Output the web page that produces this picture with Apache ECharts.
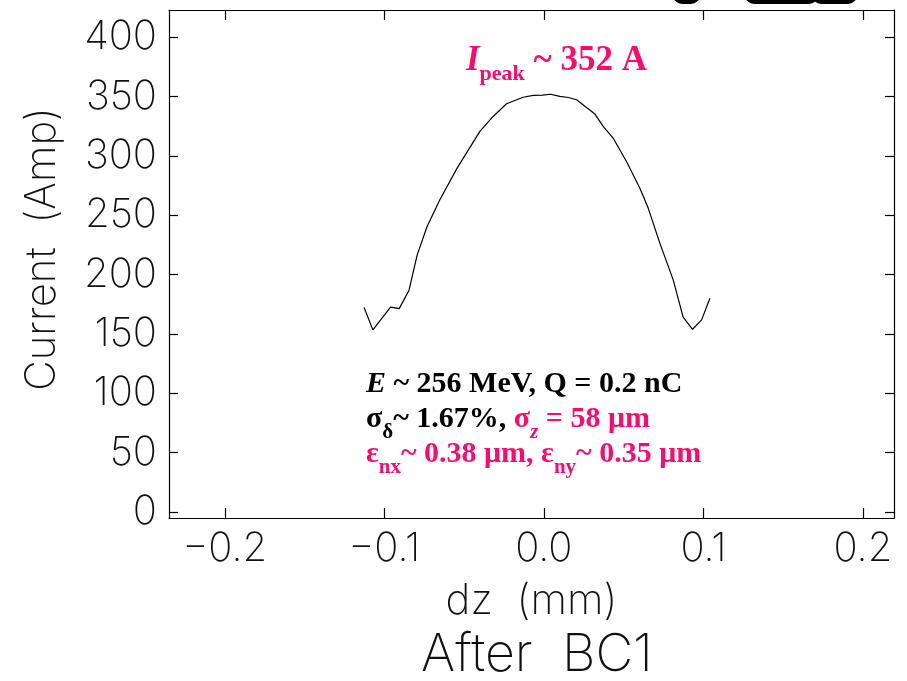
<!DOCTYPE html>
<html>
<head>
<meta charset="utf-8">
<script src="https://cdn.jsdelivr.net/npm/echarts@6/dist/echarts.min.js"></script>
<style>
  html, body { margin: 0; padding: 0; background: #fff; }
  #chart { width: 907px; height: 681px; }
</style>
</head>
<body>
<div id="chart"></div>
<script>
// Longitudinal current profile of the bunch after BC1
const dz = [-0.1127, -0.1072, -0.0961, -0.0907, -0.0846, -0.0794, -0.0732, -0.0652, -0.0544,
            -0.0401, -0.0318, -0.0234, -0.0130, -0.0067, -0.0008, 0.0042, 0.0100, 0.0155,
            0.0205, 0.0320, 0.0372, 0.0434, 0.0518, 0.0602, 0.0654, 0.0727, 0.0811, 0.0873,
            0.0932, 0.0989, 0.1041];
const current = [172.3, 153.5, 172.6, 171.4, 186.6, 216.7, 240.6, 263.1, 289.8,
                 320.7, 333.3, 344.0, 349.5, 351.0, 351.2, 352.0, 350.2, 349.3,
                 347.4, 335.3, 324.9, 315.1, 295.4, 272.9, 256.1, 226.6, 195.6, 164.2,
                 154.0, 161.9, 180.2];

const xTicks = [-0.2, -0.1, 0.0, 0.1, 0.2];
const yTicks = [0, 50, 100, 150, 200, 250, 300, 350, 400];

const tickFont = 'Inter';
const pink = '#ff0a6c';
const serif = '"Liberation Serif", "Times New Roman", serif';

const chart = echarts.init(document.getElementById('chart'));

const frameLine = { show: true, onZero: false, lineStyle: { color: '#000', width: 1.2 } };
const tickStyle = { color: '#000', width: 1.2 };
const fmtX = v => (Math.abs(v) < 1e-9 ? '0.0' : v.toFixed(1).replace('-', '\u2212'));
const thin = { fontFamily: tickFont, fontWeight: 150, color: '#111' };

chart.setOption({
  animation: false,
  backgroundColor: '#fff',
  grid: { left: 169, top: 10, right: 13, bottom: 163, containLabel: false },
  xAxis: [
    {
      type: 'value', position: 'bottom', min: -0.235, max: 0.2195,
      axisLine: frameLine,
      axisTick: { show: true, inside: true, length: 10, customValues: xTicks, lineStyle: tickStyle },
      axisLabel: Object.assign({ show: true, customValues: xTicks, formatter: fmtX, margin: 11, fontSize: 40 }, thin),
      splitLine: { show: false },
      name: 'dz  (mm)', nameLocation: 'middle', nameGap: 62,
      nameTextStyle: Object.assign({ fontSize: 42 }, thin)
    },
    {
      type: 'value', position: 'top', min: -0.235, max: 0.2195,
      axisLine: frameLine,
      axisTick: { show: true, inside: true, length: 10, customValues: xTicks, lineStyle: tickStyle },
      axisLabel: { show: false },
      splitLine: { show: false }
    }
  ],
  yAxis: [
    {
      type: 'value', position: 'left', min: -5, max: 423,
      axisLine: frameLine,
      axisTick: { show: true, inside: true, length: 9, customValues: yTicks, lineStyle: tickStyle },
      axisLabel: Object.assign({ show: true, customValues: yTicks, margin: 12, fontSize: 40 }, thin),
      splitLine: { show: false },
      name: 'Current  (Amp)', nameLocation: 'middle', nameGap: 106,
      nameTextStyle: Object.assign({ fontSize: 42, padding: [0, 0, 0, 30] }, thin)
    },
    {
      type: 'value', position: 'right', min: -5, max: 423,
      axisLine: frameLine,
      axisTick: { show: true, inside: true, length: 9, customValues: yTicks, lineStyle: tickStyle },
      axisLabel: { show: false },
      splitLine: { show: false }
    }
  ],
  series: [{
    type: 'line',
    data: dz.map((x, i) => [x, current[i]]),
    showSymbol: false,
    symbol: 'none',
    smooth: false,
    lineStyle: { color: '#000', width: 1.2 }
  }],
  graphic: [
    // peak current annotation
    {
      type: 'text', left: 466, top: 43, z: 10,
      style: {
        text: '{i|I}{sub|peak}{t| ~ 352 A}',
        rich: {
          i: { fontFamily: serif, fontStyle: 'italic', fontWeight: 'bold', fontSize: 35, lineHeight: 38, fill: pink, verticalAlign: 'top' },
          sub: { fontFamily: serif, fontWeight: 'bold', fontSize: 22, lineHeight: 18, padding: [20, 0, 0, 0], fill: pink, verticalAlign: 'top' },
          t: { fontFamily: serif, fontWeight: 'bold', fontSize: 35, lineHeight: 38, fill: pink, verticalAlign: 'top' }
        }
      }
    },
    // beam parameters
    {
      type: 'text', left: 366, top: 369, z: 10,
      style: {
        text: '{bi|E}{b| ~ 256 MeV, Q = 0.2 nC}\n' +
              '{b|\u03c3}{bs|\u03b4}{b|~ 1.67%, }{p|\u03c3}{psi|z}{p| = 58 \u03bcm}\n' +
              '{p|\u03b5}{ps|nx}{p|~ 0.38 \u03bcm, \u03b5}{ps|ny}{p|~ 0.35 \u03bcm}',
        rich: {
          bi: { fontFamily: serif, fontStyle: 'italic', fontWeight: 'bold', fontSize: 30, lineHeight: 35, fill: '#000', verticalAlign: 'top' },
          b: { fontFamily: serif, fontWeight: 'bold', fontSize: 30, lineHeight: 35, fill: '#000', verticalAlign: 'top' },
          bs: { fontFamily: serif, fontWeight: 'bold', fontSize: 21, lineHeight: 17, padding: [18, 0, 0, 0], fill: '#000', verticalAlign: 'top' },
          p: { fontFamily: serif, fontWeight: 'bold', fontSize: 30, lineHeight: 35, fill: pink, verticalAlign: 'top' },
          ps: { fontFamily: serif, fontWeight: 'bold', fontSize: 21, lineHeight: 17, padding: [18, 0, 0, 0], fill: pink, verticalAlign: 'top' },
          psi: { fontFamily: serif, fontStyle: 'italic', fontWeight: 'bold', fontSize: 21, lineHeight: 17, padding: [18, 0, 0, 0], fill: pink, verticalAlign: 'top' }
        }
      }
    },
    // plot caption
    {
      type: 'text', x: 537, y: 655, z: 10,
      style: {
        text: 'After  BC1', align: 'center', verticalAlign: 'middle',
        fontFamily: tickFont, fontWeight: 150, fontSize: 52, fill: '#111'
      }
    },
    // dark shapes clipped at the top edge
    { type: 'rect', shape: { x: 673, y: -14, width: 27, height: 18, r: 9 }, style: { fill: '#000' } },
    { type: 'rect', shape: { x: 745, y: -14, width: 73, height: 18, r: 9 }, style: { fill: '#000' } },
    { type: 'rect', shape: { x: 812, y: -14, width: 45, height: 18, r: 9 }, style: { fill: '#000' } }
  ]
});
</script>
</body>
</html>
